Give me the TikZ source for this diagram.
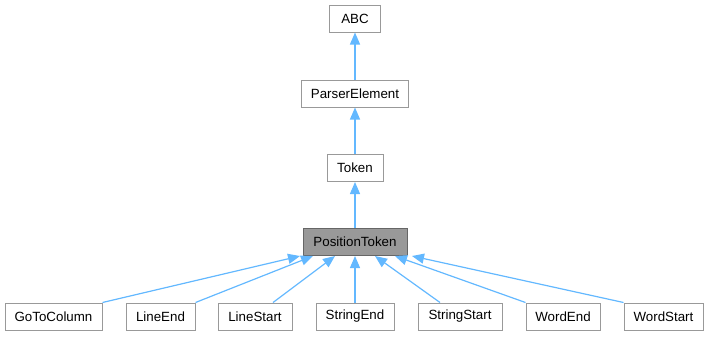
\documentclass[tikz,border=0pt]{standalone}
\usepackage{fontspec}
\setmainfont{Liberation Sans}
\usetikzlibrary{arrows.meta}
\definecolor{edgeblue}{HTML}{63B8FF}
\definecolor{boxgray}{HTML}{999999}
\definecolor{curgray}{HTML}{666666}

\begin{document}
\begin{tikzpicture}[x=0.75pt,y=-0.75pt,
  cls/.style={rectangle,draw=boxgray,fill=white,line width=0.75pt,inner sep=0pt,
    font=\fontsize{10}{12}\selectfont,minimum height=27*0.75pt,minimum width=#1*0.75pt},
  current/.style={draw=curgray,fill=boxgray},
  inherit/.style={draw=edgeblue,line width=0.9pt,-{Triangle[length=9pt,width=7.5pt]}}]
  \useasboundingbox (0,0) rectangle (710,336);
  \node[cls=51] (abc) at (355,18.5) {ABC};
  \node[cls=107] (pe) at (355,93.5) {ParserElement};
  \node[cls=56] (tok) at (355,168) {Token};
  \node[cls=104,current] (pos) at (355,242) {PositionToken};
  % derived classes
  \node[cls=97] (gtc) at (53.5,316.5) {GoToColumn};
  \node[cls=69] (le) at (160.5,316.5) {LineEnd};
  \node[cls=74] (ls) at (255,316.5) {LineStart};
  \node[cls=78] (se) at (355,316.5) {StringEnd};
  \node[cls=84] (ss) at (460,316.5) {StringStart};
  \node[cls=74] (we) at (563,316.5) {WordEnd};
  \node[cls=79] (ws) at (663.5,316.5) {WordStart};
  \path
   (pe.north) edge[inherit] (abc.south)
   (tok.north) edge[inherit] (pe.south)
   (pos.north) edge[inherit] (tok.south)
   (gtc.north east) edge[inherit] ([xshift=-41.25pt]pos.south)
   (le.north east) edge[inherit] ([xshift=-31.5pt]pos.south)
   ([xshift=13.5pt]ls.north) edge[inherit] ([xshift=-15pt]pos.south)
   (se.north) edge[inherit] (pos.south)
   ([xshift=-15pt]ss.north) edge[inherit] ([xshift=15pt]pos.south)
   (we.north west) edge[inherit] ([xshift=30pt]pos.south)
   (ws.north west) edge[inherit] ([xshift=42.75pt]pos.south);
\end{tikzpicture}
\end{document}
